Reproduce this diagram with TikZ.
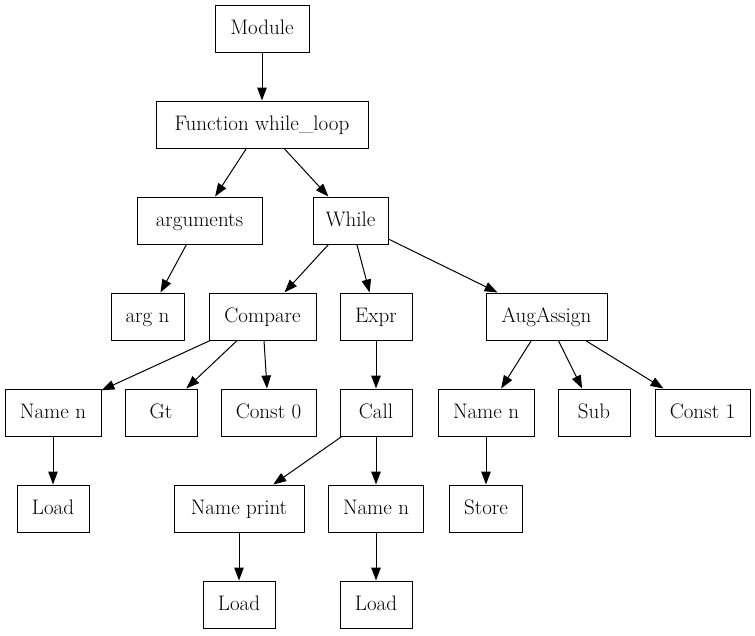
\documentclass[tikz,border=0pt]{standalone}
\usetikzlibrary{arrows.meta}
\begin{document}
\begin{tikzpicture}[x=1pt,y=-1pt,
  box/.style={draw,line width=1pt,inner sep=0pt,minimum height=47pt,text height=14.5pt,text depth=3pt,font=\fontsize{21}{25}\selectfont},
  edge/.style={line width=1pt,-{Triangle[length=13pt,width=9.5pt]}}]
\useasboundingbox (0,0) rectangle (755,635);
\node[box,minimum width=94pt]  (mod)  at (262,28.5) {Module};
\node[box,minimum width=212pt] (fun)  at (262,124.5) {Function while\_loop};
\node[box,minimum width=125pt] (args) at (199.5,220.5) {arguments};
\node[box,minimum width=75pt]  (wh)   at (350.5,220.5) {While};
\node[box,minimum width=73pt]  (argn) at (147.5,316.5) {arg n};
\node[box,minimum width=107pt] (cmp)  at (262.5,316.5) {Compare};
\node[box,minimum width=72pt]  (expr) at (376,316.5) {Expr};
\node[box,minimum width=121pt] (aug)  at (546.5,316.5) {AugAssign};
\node[box,minimum width=96pt]  (n1)   at (53,412.5) {Name n};
\node[box,minimum width=72pt]  (gt)   at (161,412.5) {Gt};
\node[box,minimum width=95pt]  (c0)   at (268.5,412.5) {Const 0};
\node[box,minimum width=72pt]  (call) at (376,412.5) {Call};
\node[box,minimum width=96pt]  (n2)   at (486,412.5) {Name n};
\node[box,minimum width=72pt]  (sub)  at (594,412.5) {Sub};
\node[box,minimum width=95pt]  (c1)   at (702.5,412.5) {Const 1};
\node[box,minimum width=72pt]  (ld1)  at (53,508.5) {Load};
\node[box,minimum width=130pt] (np)   at (239,508.5) {Name print};
\node[box,minimum width=95pt]  (n3)   at (376,508.5) {Name n};
\node[box,minimum width=73pt]  (st)   at (486,508.5) {Store};
\node[box,minimum width=72pt]  (ld2)  at (239,604.5) {Load};
\node[box,minimum width=72pt]  (ld3)  at (376,604.5) {Load};
\draw[edge] (mod) -- (fun);
\draw[edge] (fun) -- (args);
\draw[edge] (fun) -- (wh);
\draw[edge] (args) -- (argn);
\draw[edge] (wh) -- (cmp);
\draw[edge] (wh) -- (expr);
\draw[edge] (wh) -- (aug);
\draw[edge] (cmp) -- (n1);
\draw[edge] (cmp) -- (gt);
\draw[edge] (cmp) -- (c0);
\draw[edge] (expr) -- (call);
\draw[edge] (aug) -- (n2);
\draw[edge] (aug) -- (sub);
\draw[edge] (aug) -- (c1);
\draw[edge] (n1) -- (ld1);
\draw[edge] (call) -- (np);
\draw[edge] (call) -- (n3);
\draw[edge] (n2) -- (st);
\draw[edge] (np) -- (ld2);
\draw[edge] (n3) -- (ld3);
\end{tikzpicture}
\end{document}
